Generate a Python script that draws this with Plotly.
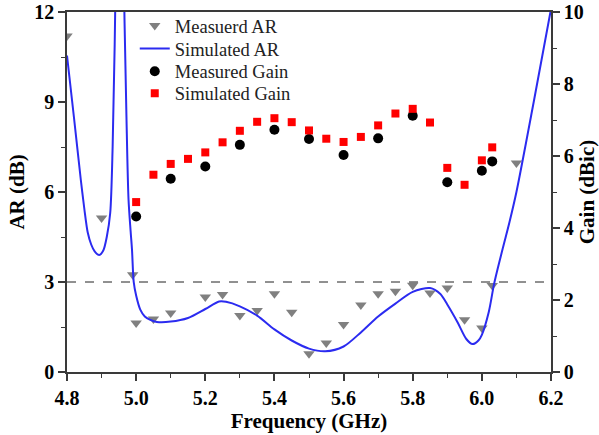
import plotly.graph_objects as go

# Measured axial ratio (dB)
meas_ar_freq = [4.80, 4.90, 4.99, 5.00, 5.05, 5.10, 5.20, 5.25, 5.30, 5.35, 5.40, 5.45,
                5.50, 5.55, 5.60, 5.65, 5.70, 5.75, 5.80, 5.85, 5.90, 5.95, 6.00, 6.03, 6.10]
meas_ar = [11.2, 5.13, 3.24, 1.63, 1.77, 1.97, 2.50, 2.58, 1.88, 2.05, 2.61, 1.99,
           0.61, 0.97, 1.58, 2.23, 2.61, 2.69, 2.89, 2.63, 2.80, 1.74, 1.47, 2.88, 6.97]

# Simulated axial ratio (dB)
sim_ar_freq = [4.800, 4.820, 4.840, 4.850, 4.860, 4.870, 4.880, 4.893, 4.905, 4.915, 4.925,
               4.932, 4.940, 4.953, 4.966, 4.972, 4.978, 4.984, 4.988, 4.993, 5.000, 5.012,
               5.025, 5.041, 5.060, 5.100, 5.150, 5.200, 5.240, 5.260, 5.300, 5.350, 5.400,
               5.450, 5.500, 5.547, 5.600, 5.650, 5.700, 5.750, 5.800, 5.850, 5.880, 5.900,
               5.930, 5.955, 5.973, 5.990, 6.000, 6.020, 6.036, 6.060, 6.080, 6.100, 6.150,
               6.200]
sim_ar = [10.55, 8.50, 6.40, 5.45, 4.65, 4.25, 4.02, 3.90, 4.05, 4.50, 5.30,
          7.50, 12.5, 30.0, 12.0, 8.50, 5.74, 4.70, 4.08, 3.00, 2.55, 2.08,
          1.85, 1.74, 1.67, 1.68, 1.80, 2.10, 2.35, 2.34, 2.19, 1.88, 1.42,
          1.05, 0.78, 0.69, 0.85, 1.32, 1.85, 2.28, 2.67, 2.80, 2.60, 2.25,
          1.65, 1.10, 0.93, 1.05, 1.24, 2.00, 2.97, 4.10, 5.00, 6.00, 9.00,
          12.1]

# Measured gain (dBic)
meas_gain_freq = [5.00, 5.10, 5.20, 5.30, 5.40, 5.50, 5.60, 5.70, 5.80, 5.90, 6.00, 6.03]
meas_gain = [4.32, 5.37, 5.71, 6.31, 6.73, 6.47, 6.03, 6.49, 7.12, 5.27, 5.59, 5.85]

# Simulated gain (dBic)
sim_gain_freq = [5.00, 5.05, 5.10, 5.15, 5.20, 5.25, 5.30, 5.35, 5.40, 5.45, 5.50, 5.55,
                 5.60, 5.65, 5.70, 5.75, 5.80, 5.85, 5.90, 5.95, 6.00, 6.03]
sim_gain = [4.72, 5.48, 5.78, 5.92, 6.10, 6.38, 6.70, 6.95, 7.05, 6.94, 6.71, 6.48,
            6.39, 6.53, 6.85, 7.18, 7.31, 6.93, 5.67, 5.20, 5.88, 6.24]

x_ticks = [4.8, 5.0, 5.2, 5.4, 5.6, 5.8, 6.0, 6.2]
ar_ticks = [0, 3, 6, 9, 12]
gain_ticks = [0, 2, 4, 6, 8, 10]
ar_threshold = 3

FONT = "Liberation Serif"
AXIS_COLOR = "#3a3a3a"

fig = go.Figure()

fig.add_trace(go.Scatter(
    x=meas_ar_freq, y=meas_ar, mode="markers", name="Measuerd AR",
    marker=dict(symbol="triangle-down", size=10, color="#808080"),
    legend="legend",
))
fig.add_trace(go.Scatter(
    x=sim_ar_freq, y=sim_ar, mode="lines", name="Simulated AR",
    line=dict(color="#2b2bf0", width=2, shape="spline", smoothing=0.8),
    legend="legend2",
))
fig.add_trace(go.Scatter(
    x=meas_gain_freq, y=meas_gain, mode="markers", name="Measured Gain",
    marker=dict(symbol="circle", size=10, color="black"), yaxis="y2",
    legend="legend3",
))
fig.add_trace(go.Scatter(
    x=sim_gain_freq, y=sim_gain, mode="markers", name="Simulated Gain",
    marker=dict(symbol="square", size=8, color="#ff0000"), yaxis="y2",
    legend="legend4",
))

# 3-dB axial ratio reference line
fig.add_shape(type="line", xref="paper", x0=0, x1=1, yref="y", y0=ar_threshold, y1=ar_threshold,
              line=dict(color="#222222", width=1, dash="dash"))

tick_font = dict(family=FONT, size=20, color="black", weight="bold")
title_font = dict(family=FONT, size=21, color="black", weight="bold")


def legend_box(y):
    # one legend entry per box so the rows sit tightly stacked
    return dict(
        x=0.14, y=y, xanchor="left", yanchor="top",
        bgcolor="rgba(0,0,0,0)", borderwidth=0,
        font=dict(family=FONT, size=18.5, color="#222222"),
    )


fig.update_layout(
    width=599, height=435,
    margin=dict(l=67, r=48, t=12, b=63, autoexpand=False),
    paper_bgcolor="white", plot_bgcolor="white",
    font=dict(family=FONT, color="black"),
    showlegend=True,
    legend=legend_box(1.014),
    legend2=legend_box(0.950),
    legend3=legend_box(0.887),
    legend4=legend_box(0.826),
    xaxis=dict(
        range=[4.8, 6.2], tickvals=x_ticks, ticktext=[f"{v:.1f}" for v in x_ticks],
        ticks="outside", ticklen=7, tickwidth=1.5, tickcolor=AXIS_COLOR,
        minor=dict(dtick=0.1, ticks="outside", ticklen=4, tickwidth=1.2, tickcolor=AXIS_COLOR),
        showline=True, linecolor=AXIS_COLOR, linewidth=1.5, mirror=True,
        showgrid=False, zeroline=False,
        tickfont=tick_font,
        title=dict(text="Frequency (GHz)", font=title_font, standoff=2),
    ),
    yaxis=dict(
        range=[0, 12], tickvals=ar_ticks,
        ticks="outside", ticklen=7, tickwidth=1.5, tickcolor=AXIS_COLOR,
        minor=dict(dtick=1.5, ticks="outside", ticklen=4, tickwidth=1.2, tickcolor=AXIS_COLOR),
        showline=True, linecolor=AXIS_COLOR, linewidth=1.5,
        showgrid=False, zeroline=False,
        tickfont=tick_font,
        title=dict(text="AR (dB)", font=title_font, standoff=4),
    ),
    yaxis2=dict(
        range=[0, 10], tickvals=gain_ticks, overlaying="y", side="right",
        ticks="outside", ticklen=7, tickwidth=1.5, tickcolor=AXIS_COLOR,
        minor=dict(dtick=1, ticks="outside", ticklen=4, tickwidth=1.2, tickcolor=AXIS_COLOR),
        showline=True, linecolor=AXIS_COLOR, linewidth=1.5,
        showgrid=False, zeroline=False,
        tickfont=tick_font,
        title=dict(text="Gain (dBic)", font=title_font, standoff=12),
    ),
)

fig.write_html("out.html")
